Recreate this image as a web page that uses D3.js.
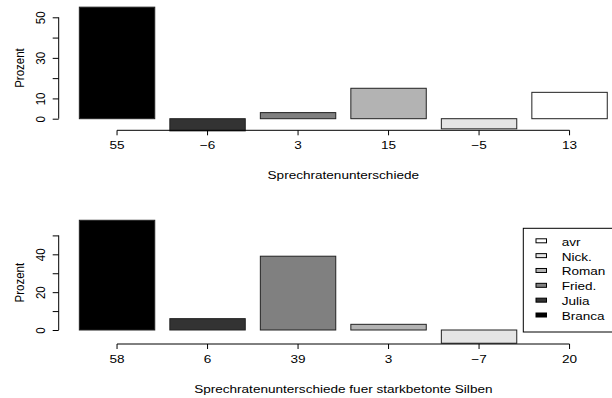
<!DOCTYPE html>
<html>
<head>
<meta charset="utf-8">
<script src="https://cdn.jsdelivr.net/npm/d3@7"></script>
<style>
  body { margin: 0; background: #fff; }
  svg { display: block; font-family: "Liberation Sans", Arial, sans-serif; }
</style>
</head>
<body>
<svg id="chart"></svg>
<script>
// data
const speakers = ['Branca', 'Julia', 'Fried.', 'Roman', 'Nick.', 'avr'];
const rateDiff = [55, -6, 3, 15, -5, 13];
const rateDiffStressed = [58, 6, 39, 3, -7, 20];
const yTicks = [0, 10, 20, 30, 40, 50];
const topLabelTicks = [0, 10, 30, 50];
const bottomLabelTicks = [0, 20, 40];

// grey fills, one per speaker
const fills = ['#000000', '#333333', '#808080', '#b3b3b3', '#e5e5e5', '#ffffff'];
const color = d3.scaleOrdinal().domain(speakers).range(fills);

const width = 612, height = 398;
const fontSize = 11.5;
const stretch = 1.18; // text in the original is wider than tall

const svg = d3.select('#chart')
    .attr('width', width)
    .attr('height', height);

// shared x scale: bars 76 px wide, 90.5 px apart
const x = d3.scaleBand()
    .domain(speakers)
    .range([71.8, 71.8 + 6 * 90.5])
    .paddingInner(0.1667)
    .paddingOuter(0.0833);

function drawPanel(values, yRange, axisY, labelTicks, title, titleY) {
    const y = d3.scaleLinear().domain([0, 50]).range(yRange);
    const g = svg.append('g');

    // bars
    g.selectAll('rect.bar')
        .data(values)
        .enter().append('rect')
        .attr('class', 'bar')
        .attr('x', (d, i) => x(speakers[i]))
        .attr('width', x.bandwidth())
        .attr('y', d => y(Math.max(0, d)))
        .attr('height', d => Math.abs(y(d) - y(0)))
        .attr('fill', (d, i) => color(speakers[i]))
        .attr('stroke', '#222')
        .attr('stroke-width', 1);

    // y axis
    const yAxis = d3.axisLeft(y)
        .tickValues(yTicks)
        .tickSize(6)
        .tickSizeOuter(0)
        .tickFormat(d => labelTicks.includes(d) ? d : '');

    const ya = g.append('g')
        .attr('transform', 'translate(58.7,0)')
        .call(yAxis);
    ya.select('.domain').attr('d', `M0,${y(0)}V${y(50)}`);
    ya.selectAll('line, path').attr('stroke', '#000');
    ya.selectAll('.tick text')
        .attr('x', null).attr('dy', null)
        .attr('text-anchor', 'middle')
        .attr('fill', '#000')
        .attr('font-size', fontSize)
        .attr('font-family', null)
        .attr('transform', `translate(-13.7,0) scale(${stretch},1) rotate(-90)`);

    g.append('text')
        .attr('transform', `translate(24,${(y(0) + y(50)) / 2}) scale(${stretch},1) rotate(-90)`)
        .attr('text-anchor', 'middle')
        .attr('font-size', fontSize)
        .text('Prozent');

    // x axis: ticks at bar centres, line from first to last
    const xAxis = d3.axisBottom(x)
        .tickSize(5)
        .tickSizeOuter(0)
        .tickFormat((d, i) => d3.format('d')(values[i]));

    const xa = g.append('g')
        .attr('transform', `translate(0,${axisY})`)
        .call(xAxis);
    const first = x(speakers[0]) + x.bandwidth() / 2;
    const last = x(speakers[speakers.length - 1]) + x.bandwidth() / 2;
    xa.select('.domain').attr('d', `M${first},0H${last}`);
    xa.selectAll('line, path').attr('stroke', '#000');
    xa.selectAll('.tick text')
        .attr('y', null).attr('dy', null)
        .attr('fill', '#000')
        .attr('font-size', fontSize)
        .attr('font-family', null)
        .attr('transform', `translate(0,18.7) scale(${stretch},1)`);

    g.append('text')
        .attr('transform', `translate(${(first + last) / 2},${titleY}) scale(${stretch},1)`)
        .attr('text-anchor', 'middle')
        .attr('font-size', fontSize)
        .text(title);
}

drawPanel(rateDiff, [118.7, 17.3], 130.3, topLabelTicks,
    'Sprechratenunterschiede', 178.5);
drawPanel(rateDiffStressed, [330, 235.4], 344, bottomLabelTicks,
    'Sprechratenunterschiede fuer starkbetonte Silben', 392.5);

// legend, drawn over the last bar like in the original
const legendItems = speakers.slice().reverse();
const legend = svg.append('g');
legend.append('rect')
    .attr('x', 523.3).attr('y', 228.3)
    .attr('width', 100).attr('height', 103.7)
    .attr('fill', '#fff')
    .attr('stroke', '#000')
    .attr('stroke-width', 1);

const rowY = d3.scalePoint()
    .domain(legendItems)
    .range([240.8, 315]);

const item = legend.selectAll('g.item')
    .data(legendItems)
    .enter().append('g')
    .attr('class', 'item')
    .attr('transform', d => `translate(0,${rowY(d)})`);

item.append('rect')
    .attr('x', 536).attr('y', -2)
    .attr('width', 10.5).attr('height', 4)
    .attr('fill', d => color(d))
    .attr('stroke', '#000')
    .attr('stroke-width', 1);

item.append('text')
    .attr('transform', `translate(561.7,5) scale(${stretch},1)`)
    .attr('font-size', fontSize)
    .text(d => d);
</script>
</body>
</html>
